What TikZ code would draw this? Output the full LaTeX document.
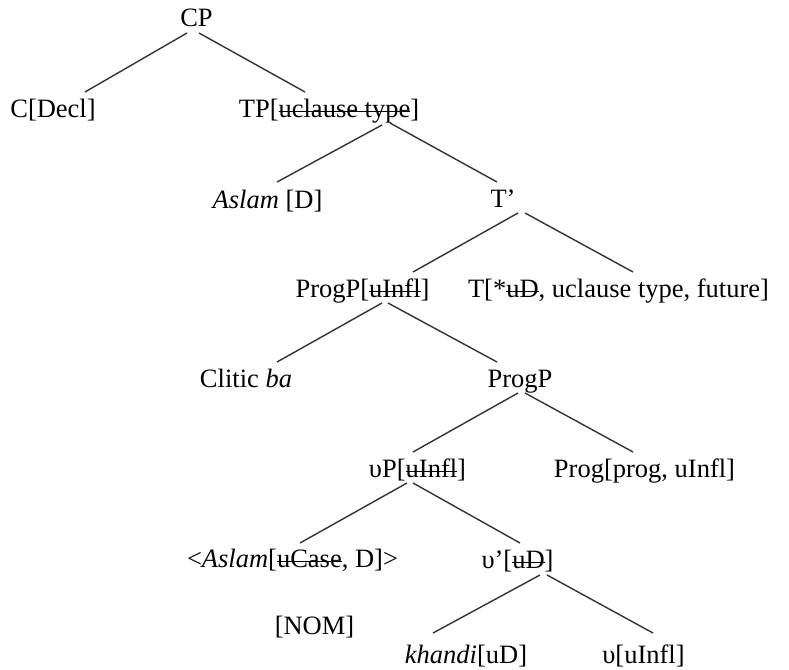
\documentclass[tikz,border=0pt]{standalone}
\usepackage{fontspec}
\setmainfont{Liberation Serif}
\newsavebox\strkbox
\newcommand\strk[1]{\sbox\strkbox{#1}\rlap{\rule[\dimexpr0.45ex-0.7pt\relax]{\wd\strkbox}{1.4pt}}\usebox\strkbox}
\begin{document}
\begin{tikzpicture}[x=1pt,y=-1pt,
  lbl/.style={anchor=base,inner sep=0pt,font=\fontsize{26.5}{31}\selectfont},
  branch/.style={line width=1.4pt,draw=black!80}]
\useasboundingbox (0,0) rectangle (789,669);
% nodes
\node[lbl] (cp) at (196.5,27) {CP};
\node[lbl] (cdecl) at (53,117) {C[Decl]};
\node[lbl] (tp) at (329,117) {TP[\strk{uclause type}]};
\node[lbl] (aslam) at (267.5,208) {\textit{Aslam} [D]};
\node[lbl] (tbar) at (503,207) {T’};
\node[lbl] (progp1) at (362.5,297) {ProgP[\strk{uInfl}]};
\node[lbl] (t) at (618.5,297) {T[*\strk{uD}, uclause type, future]};
\node[lbl] (clitic) at (246,387) {Clitic \textit{ba}};
\node[lbl] (progp2) at (520,387) {ProgP};
\node[lbl] (vp) at (417.5,477) {υP[\strk{uInfl}]};
\node[lbl] (prog) at (644.5,477) {Prog[prog, uInfl]};
\node[lbl] (trace) at (292.5,567) {<\textit{Aslam}[\strk{uCase}, D]>};
\node[lbl] (vbar) at (517.5,568) {υ’[\strk{uD}]};
\node[lbl] (nom) at (314.5,634) {[NOM]};
\node[lbl] (khandi) at (466,663) {\textit{khandi}[uD]};
\node[lbl] (v) at (643.5,663) {υ[uInfl]};
% connector end points
\coordinate (cpL) at (187,33);   \coordinate (cdeclT) at (85,92);
\coordinate (cpR) at (199,33);   \coordinate (tpT) at (305,92);
\coordinate (tpL) at (382,125);  \coordinate (aslamT) at (277,182);
\coordinate (tpR) at (390,123);  \coordinate (tbarT) at (497,182);
\coordinate (tbarL) at (518,213); \coordinate (progp1T) at (413,272);
\coordinate (tbarR) at (525,213); \coordinate (tT) at (633,272);
\coordinate (progp1L) at (382,303); \coordinate (cliticT) at (277,362);
\coordinate (progp1R) at (388,303); \coordinate (progp2T) at (497,362);
\coordinate (progp2L) at (518,393); \coordinate (vpT) at (413,452);
\coordinate (progp2R) at (525,393); \coordinate (progT) at (633,452);
\coordinate (vpL) at (407,483);  \coordinate (traceT) at (300,543);
\coordinate (vpR) at (413,483);  \coordinate (vbarT) at (520,543);
\coordinate (vbarL) at (540,575); \coordinate (khandiT) at (433,633);
\coordinate (vbarR) at (547,575); \coordinate (vT) at (653,633);
% connectors
\draw[branch] (cpL) -- (cdeclT);
\draw[branch] (cpR) -- (tpT);
\draw[branch] (tpL) -- (aslamT);
\draw[branch] (tpR) -- (tbarT);
\draw[branch] (tbarL) -- (progp1T);
\draw[branch] (tbarR) -- (tT);
\draw[branch] (progp1L) -- (cliticT);
\draw[branch] (progp1R) -- (progp2T);
\draw[branch] (progp2L) -- (vpT);
\draw[branch] (progp2R) -- (progT);
\draw[branch] (vpL) -- (traceT);
\draw[branch] (vpR) -- (vbarT);
\draw[branch] (vbarL) -- (khandiT);
\draw[branch] (vbarR) -- (vT);
\end{tikzpicture}
\end{document}
